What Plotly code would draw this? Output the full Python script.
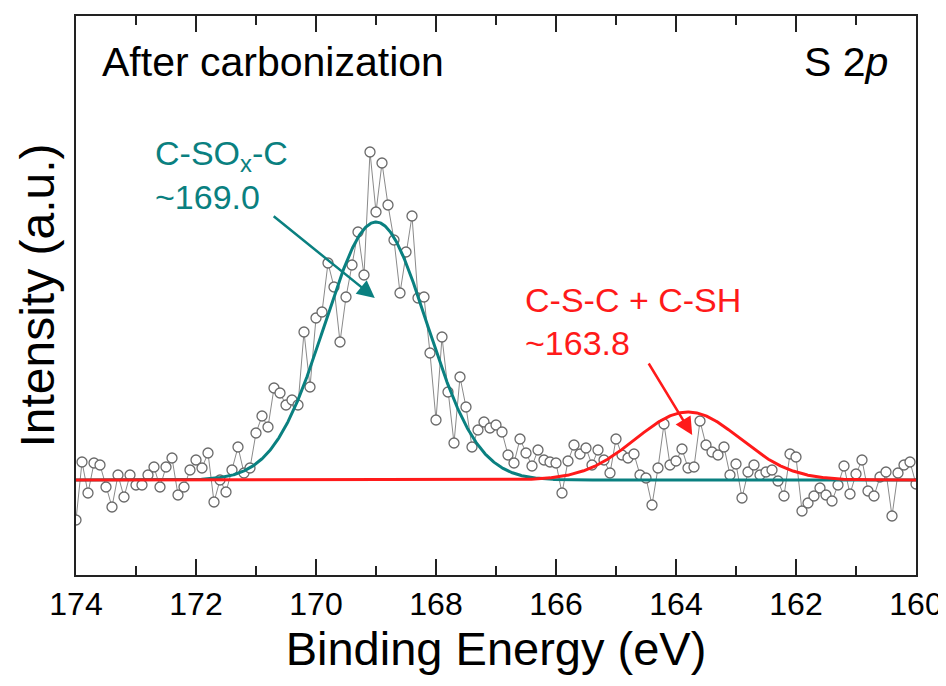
import numpy as np
import plotly.graph_objects as go

# Binding energy grid (eV), 0.1 eV steps from 174.0 down to 160.0
energy = np.round(np.arange(174.0, 159.95, -0.1), 1)

intensity_raw = [
    55, 113, 82, 112, 110, 88, 68, 100, 78, 100,          # 174.0 - 173.1
    90, 90, 100, 108, 88, 108, 117, 80, 88, 105,          # 173.0 - 172.1
    115, 107, 122, 73, 95, 83, 105, 128, 102, 107,        # 172.0 - 171.1
    142, 159, 148, 187, 182, 170, 175, 170, 243, 188,     # 171.0 - 170.1
    257, 263, 312, 288, 233, 278, 310, 343, 300, 423,     # 170.0 - 169.1
    363, 412, 370, 335, 282, 323, 359, 277, 278, 222,     # 169.0 - 168.1
    155, 238, 183, 132, 198, 168, 128, 145, 153, 147,     # 168.0 - 167.1
    150, 143, 120, 112, 136, 122, 109, 125, 115, 113,     # 167.0 - 166.1
    112, 82, 114, 130, 121, 127, 110, 125, 115, 102,      # 166.0 - 165.1
    136, 120, 117, 121, 100, 97, 70, 107, 151, 110,       # 165.0 - 164.1
    114, 126, 107, 108, 154, 130, 123, 120, 128, 100,     # 164.0 - 163.1
    111, 77, 103, 110, 100, 103, 105, 94, 79, 121,        # 163.0 - 162.1
    118, 64, 72, 79, 87, 80, 74, 90, 109, 81,             # 162.0 - 161.1
    101, 115, 84, 79, 98, 103, 59, 102, 110, 113,         # 161.0 - 160.1
    91,                                                   # 160.0
]

# Gaussian fit components: C-SOx-C and C-S-C + C-SH
fit_baseline = 95
fit_centers = [169.0, 163.8]
fit_heights = [258, 68]
fit_sigmas = [0.85, 0.87]
fit_names = ["C-SOx-C", "C-S-C + C-SH"]
fit_colors = ["#0a8080", "#ff1a1a"]

e_fine = np.linspace(174.0, 160.0, 1401)

fig = go.Figure()

fig.add_trace(go.Scatter(
    x=energy, y=intensity_raw, mode="lines+markers",
    line=dict(color="#8a8a8a", width=1),
    marker=dict(symbol="circle", size=10, color="white",
                line=dict(color="#6a6a6a", width=1.3)),
    showlegend=False, name="Raw",
))

for c, h, s, n, col in zip(fit_centers, fit_heights, fit_sigmas, fit_names, fit_colors):
    yfit = fit_baseline + h * np.exp(-0.5 * ((e_fine - c) / s) ** 2)
    fig.add_trace(go.Scatter(
        x=e_fine, y=yfit, mode="lines",
        line=dict(color=col, width=3),
        showlegend=False, name=n,
    ))

font_family = "Liberation Sans, Arial, sans-serif"
teal = fit_colors[0]
red = fit_colors[1]

annotations = [
    dict(x=173.6, y=513, xref="x", yref="y", text="After carbonization",
         showarrow=False, xanchor="left", yanchor="middle",
         font=dict(size=41, color="black", family=font_family)),
    dict(x=160.43, y=513, xref="x", yref="y", text="S 2<i>p</i>",
         showarrow=False, xanchor="right", yanchor="middle",
         font=dict(size=41, color="black", family=font_family)),
    dict(x=172.72, y=420, xref="x", yref="y", text="C-SO<sub>x</sub>-C",
         showarrow=False, xanchor="left", yanchor="middle",
         font=dict(size=34, color=teal, family=font_family)),
    dict(x=172.72, y=378, xref="x", yref="y", text="~169.0",
         showarrow=False, xanchor="left", yanchor="middle",
         font=dict(size=34, color=teal, family=font_family)),
    dict(x=166.55, y=275, xref="x", yref="y", text="C-S-C + C-SH",
         showarrow=False, xanchor="left", yanchor="middle",
         font=dict(size=34, color=red, family=font_family)),
    dict(x=166.55, y=232, xref="x", yref="y", text="~163.8",
         showarrow=False, xanchor="left", yanchor="middle",
         font=dict(size=34, color=red, family=font_family)),
    # arrows
    dict(x=169.02, y=277, ax=170.73, ay=360, xref="x", yref="y",
         axref="x", ayref="y", text="", showarrow=True,
         arrowhead=2, arrowsize=1.4, arrowwidth=2.5, arrowcolor=teal),
    dict(x=163.73, y=140, ax=164.47, ay=213, xref="x", yref="y",
         axref="x", ayref="y", text="", showarrow=True,
         arrowhead=2, arrowsize=1.4, arrowwidth=2.5, arrowcolor=red),
]

# the page body has an 8px margin, so the figure is sized/margined to compensate
fig.update_layout(
    width=938, height=678,
    margin=dict(l=68, r=30, t=8, b=111),
    plot_bgcolor="white", paper_bgcolor="white",
    font=dict(family=font_family, color="black"),
    annotations=annotations,
    xaxis=dict(
        range=[174, 160], showgrid=False, zeroline=False, automargin=False,
        showline=True, linecolor="#222", linewidth=2, mirror="ticks",
        ticks="inside", ticklen=16, tickwidth=1.5, tickcolor="#222",
        dtick=2, tick0=160,
        minor=dict(dtick=1, ticks="inside", ticklen=9, tickwidth=1.5, tickcolor="#222"),
        tickfont=dict(size=32, family=font_family),
        title=dict(text="Binding Energy (eV)", font=dict(size=47, family=font_family), standoff=10),
    ),
    yaxis=dict(
        range=[0, 559], showgrid=False, zeroline=False, automargin=False,
        showline=True, linecolor="#222", linewidth=2, mirror=True,
        ticks="", showticklabels=False,
        title=dict(text="Intensity (a.u.)", font=dict(size=48, family=font_family), standoff=4),
    ),
)

fig.write_html("out.html")
